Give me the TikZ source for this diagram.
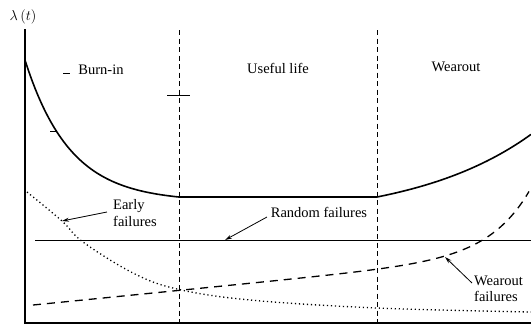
\documentclass[tikz,border=0pt]{standalone}
\usepackage{fontspec}
\setmainfont{Liberation Serif}
\usetikzlibrary{arrows.meta}
\begin{document}
\begin{tikzpicture}[x=1pt,y=-1pt,
  lbl/.style={font=\fontsize{14.5}{16.5}\selectfont, inner sep=0pt},
  axis/.style={line width=1.1pt},
  divider/.style={line width=0.9pt, dash pattern=on 5pt off 3.5pt},
  bathtub/.style={line width=1.6pt},
  earlyc/.style={line width=1.3pt, dash pattern=on 1.2pt off 2.8pt},
  wearc/.style={line width=1.3pt, dash pattern=on 8pt off 6pt},
  randomc/.style={line width=0.9pt},
  pointer/.style={line width=0.8pt, -{Stealth[length=7pt,width=4pt]}},
  smalldash/.style={line width=0.8pt}]
\useasboundingbox (0,0) rectangle (531,325);
% axes
\coordinate (origin) at (25,323);
\coordinate (ytop) at (25,29);
\coordinate (xend) at (531,323);
\draw[axis] (ytop) -- (origin) -- (xend);
\node[lbl] (ylabel) at (23,17) {$\lambda\,(t)$};
% dividers
\coordinate (d1top) at (179,30);
\coordinate (d1bot) at (179,323);
\coordinate (d2top) at (377,30);
\coordinate (d2bot) at (377,323);
\draw[divider] (d1top) -- (d1bot);
\draw[divider] (d2top) -- (d2bot);
% small marks
\coordinate (t1a) at (167,95); \coordinate (t1b) at (190,95);
\draw[smalldash] (t1a) -- (t1b);
\coordinate (t2a) at (63,73); \coordinate (t2b) at (70,73);
\draw[smalldash] (t2a) -- (t2b);
\coordinate (t3a) at (50,131); \coordinate (t3b) at (57,131);
\draw[smalldash] (t3a) -- (t3b);
% region labels
\node[lbl] (burnin) at (101,70) {Burn-in};
\node[lbl] (useful) at (278,68) {Useful life};
\node[lbl] (wearout) at (456,67) {Wearout};
% bathtub curve
\draw[bathtub] plot[domain=25:179, samples=80, smooth] (\x,{197-141.6*(exp(-(\x-25)/45)-0.0327)})
  -- (377,197)
  -- plot[domain=377:531, samples=60, smooth] (\x,{197-24*(exp((\x-377)/120)-1)});
% random failures line
\coordinate (rstart) at (35,240);
\coordinate (rend) at (531,240);
\draw[randomc] (rstart) -- (rend);
% early failures (dotted)
\draw[earlyc] plot[smooth, tension=0.6] coordinates {(27,192) (62,221) (83,242) (133,273) (177,289) (250,300) (377,308) (531,312)};
% wearout failures (dashed)
\draw[wearc] plot[domain=33:529, samples=150, smooth] (\x,{305-0.1*(\x-33)-1.43*exp((\x-377)/40)});
% annotations
\node[lbl, anchor=west, align=left] (earlylbl) at (113,213) {Early\\failures};
\coordinate (earlytail) at (107,212);
\coordinate (earlyhead) at (62,221);
\draw[pointer] (earlytail) -- (earlyhead);
\node[lbl] (randlbl) at (319,212) {Random failures};
\coordinate (randtail) at (267,217);
\coordinate (randhead) at (225,240);
\draw[pointer] (randtail) -- (randhead);
\node[lbl, anchor=west, align=left] (wearlbl) at (474,289) {Wearout\\failures};
\coordinate (weartail) at (472,283);
\coordinate (wearhead) at (445,257);
\draw[pointer] (weartail) -- (wearhead);
\end{tikzpicture}
\end{document}
